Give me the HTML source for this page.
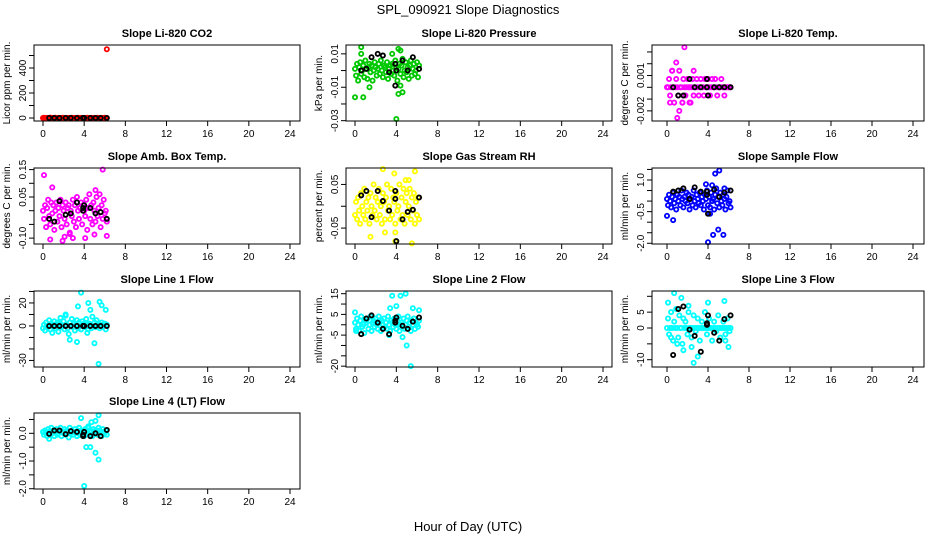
<!DOCTYPE html>
<html><head><meta charset="utf-8"><style>
html,body{margin:0;padding:0;background:#fff;}
svg{display:block;font-family:"Liberation Sans",sans-serif;}
</style></head><body>
<svg id="chart" width="936" height="540" viewBox="0 0 936 540">
<text x="468" y="14" text-anchor="middle" font-size="13">SPL_090921  Slope Diagnostics</text>
<text x="468" y="531" text-anchor="middle" font-size="13">Hour of Day (UTC)</text>
</svg>
<script>
const hrs=[0.0,0.1,0.2,0.3,0.4,0.5,0.6,0.7,0.8,0.9,1.0,1.1,1.2,1.3,1.4,1.5,1.6,1.7,1.8,1.9,2.0,2.1,2.2,2.3,2.4,2.5,2.6,2.7,2.8,2.9,3.0,3.1,3.2,3.3,3.4,3.5,3.6,3.7,3.8,3.9,4.0,4.1,4.2,4.3,4.4,4.5,4.6,4.7,4.8,4.9,5.0,5.1,5.2,5.3,5.4,5.5,5.6,5.7,5.8,5.9,6.0,6.1,6.2];
const bHrs=[0.6,1.1,1.6,2.2,2.7,3.3,3.9,3.9,4.0,4.6,5.1,5.6,6.2];
const xTicks=[0,4,8,12,16,20,24];

const co2Vals=[0,2,-1,0,1,-2,0,3,0,-1,1,0,2,-2,0,1,0,-1,0,2,0,-1,1,0,-2,0,1,0,2,-1,0,1,-1,0,2,0,-2,1,0,0,1,-1,0,2,0,-1,0,1,0,-2,1,0,0,2,-1,0,1,0,-1,0,2,0,0];
const co2OutX=[6.2]; const co2OutY=[550];
const co2Black=[0,0,0,0,0,0,0,0,0,0,0,0,0];

const presVals=[0.001,-0.003,0.004,-0.006,0.002,0.005,-0.002,0.000,0.003,-0.004,0.006,0.001,-0.005,0.002,0.004,-0.001,0.003,-0.006,0.000,0.005,0.002,-0.003,0.001,0.004,-0.002,0.006,0.000,-0.004,0.003,0.002,-0.001,0.005,-0.005,0.001,0.003,-0.002,0.004,0.000,-0.003,0.006,0.002,-0.006,0.001,0.004,-0.002,0.003,0.007,-0.004,0.000,0.005,-0.001,0.002,-0.005,0.003,0.006,-0.003,0.001,0.004,-0.002,0.000,0.005,-0.004,0.003];
const presOutX=[0.0,0.6,0.6,0.8,1.4,3.6,4.0,4.2,4.2,4.4,4.6,4.4];
const presOutY=[-0.016,0.014,0.010,-0.016,-0.010,0.010,-0.029,-0.014,0.013,0.012,-0.013,-0.009];
const presBlack=[0,0.001,0.008,0.010,0.009,-0.001,0.004,-0.009,0,0.006,0,0.008,0.001];

const tempVals=[0,0,0.0007,-0.0007,0,0.0014,0,-0.0013,0,0.0007,0,-0.0007,0.0014,0,0,-0.0013,0.0007,0,-0.0007,0,0.0007,0,0,-0.0013,0,0.0007,-0.0007,0,0,0.0007,0,-0.0007,0,0.0007,0,0,-0.0007,0.0007,0,0,0.0007,0,-0.0007,0,0.0007,0,0,0.0007,0,-0.0007,0,0,0,0.0007,0,0,-0.0007,0,0,0,0,0,0];
const tempOutX=[1.7,0.9,1.2,1.0,0.3,2.6,0.5,1.5,2.2];
const tempOutY=[0.0034,0.0021,-0.002,-0.0026,-0.0013,0.0014,0.0014,-0.0013,-0.0013];
const tempBlack=[0,-0.0007,-0.0007,0.0007,0,0,0.0007,0,-0.0007,0,0,0,0];

const ambVals=[0.00,-0.03,0.02,-0.06,0.01,0.04,-0.02,-0.05,0.03,-0.01,0.02,-0.07,0.00,0.03,-0.04,0.01,-0.02,0.04,-0.06,0.02,0.00,-0.03,0.03,-0.05,0.01,0.02,-0.08,0.00,-0.02,0.04,-0.04,0.02,-0.06,0.05,0.00,-0.03,0.01,0.03,-0.05,0.02,0.00,-0.02,0.04,-0.07,0.01,0.06,-0.03,0.02,-0.05,0.03,0.00,-0.04,0.05,-0.02,0.01,0.06,-0.06,0.02,-0.03,0.04,-0.01,0.00,-0.04];
const ambOutX=[0.1,5.8,0.9,0.7,1.9,2.9,4.1,5.0,6.2,5.1,2.1,2.6];
const ambOutY=[0.13,0.15,0.085,-0.105,-0.11,-0.10,-0.10,-0.087,-0.092,0.075,-0.095,-0.085];
const ambBlack=[-0.03,-0.04,0.035,-0.015,-0.01,0.03,0,0.01,0.02,0.01,-0.01,-0.005,-0.03];

const rhVals=[-0.02,0.01,-0.03,0.02,-0.01,-0.04,0.03,0.00,-0.02,0.04,-0.03,0.01,-0.01,0.02,-0.04,0.03,0.00,-0.02,0.05,-0.01,0.02,-0.03,0.01,0.04,-0.02,0.00,-0.04,0.03,0.01,-0.03,0.02,0.05,-0.01,0.00,-0.03,0.04,-0.02,0.02,0.01,-0.04,0.03,-0.01,0.00,0.05,-0.03,0.02,-0.02,0.04,-0.04,0.01,0.03,-0.02,0.00,0.04,-0.03,0.02,-0.01,0.03,-0.04,0.01,-0.02,0.02,-0.03];
const rhOutX=[2.7,3.8,5.8,1.5,2.9,3.9,5.5,3.9,4.9,5.2];
const rhOutY=[0.085,0.075,0.08,-0.07,-0.06,-0.08,-0.085,-0.06,0.06,0.06];
const rhBlack=[0.025,0.035,-0.025,0.035,0.012,-0.01,0.035,0.017,-0.08,-0.03,-0.013,-0.008,0.02];

const sfVals=[0.1,-0.2,0.3,0.0,-0.3,0.2,0.4,-0.1,0.1,-0.4,0.3,0.0,0.2,-0.2,0.5,0.1,-0.3,0.2,0.0,0.4,-0.1,0.3,-0.4,0.1,0.2,-0.2,0.5,0.0,-0.3,0.3,0.1,-0.1,0.4,-0.2,0.2,0.0,-0.4,0.3,0.1,0.5,-0.2,0.2,-0.3,0.4,0.0,0.1,-0.4,0.3,0.6,-0.1,0.2,-0.3,0.4,0.0,-0.2,0.3,0.1,-0.4,0.2,0.5,-0.1,0.0,-0.3];
const sfOutX=[0.0,0.6,4.7,5.1,5.0,4.5,5.5,4.0,4.2,4.4,3.8,5.6];
const sfOutY=[-0.7,-0.9,1.3,1.45,-1.35,-1.6,-1.6,-1.95,-0.6,0.75,0.8,0.6];
const sfBlack=[0.45,0.5,0.6,0.1,0.65,0.45,0.45,0.3,-0.6,0.55,0.2,0.4,0.5];

const l1Vals=[-2,1,-4,3,0,-1,5,-3,2,-6,1,4,-2,0,3,-5,2,7,-1,0,4,-3,9,1,-2,-7,3,0,6,-1,2,-4,1,5,-2,3,0,-3,4,1,2,-1,6,0,-3,2,1,-2,8,0,3,-1,5,0,2,-2,1,3,-1,0,2,-3,1];
const l1OutX=[3.7,3.4,4.4,5.5,5.7,6.1,4.6,5.0,5.4,2.6,3.3,4.3,2.2];
const l1OutY=[29,17,20,21,18,14,14,-15,-33,-12,-14,-6,10];
const l1Black=[0,0,0,0,0,0,0,0,0,0,0,0,0];

const l2Vals=[1,-2,3,0,-3,2,4,-1,0,-4,2,1,3,-2,0,4,-3,1,2,-1,3,0,-2,4,1,-3,2,0,3,-1,1,-2,4,0,-3,2,1,-1,3,0,-2,2,4,-3,0,1,-1,3,-2,0,2,4,-1,1,-3,2,0,3,-2,1,0,-1,2];
const l2OutX=[3.6,4.9,4.4,3.4,4.0,5.6,6.2,5.0,5.4,4.6,3.3,0.0,0.1];
const l2OutY=[14,15,14,8,9,8,7,-10,-20,-6,-5,6,-3];
const l2Black=[-4.5,3,4.5,1,-2,-4.5,2,1,3.5,-0.5,-2,1.5,3.5];

const l3Vals=[0,3,-2,0,5,0,-4,2,0,6,0,-3,4,0,0,-5,3,0,2,0,-2,5,0,0,-3,0,4,0,-1,0,3,0,-4,0,2,0,0,5,0,-2,0,3,0,0,-4,0,2,0,-1,0,4,0,-3,0,0,2,0,-2,0,3,0,-1,0];
const l3OutX=[0.7,1.4,0.1,4.0,5.6,2.6,3.0,1.6,2.4,0.4,5.7,6.0,1.0,2.1];
const l3OutY=[11,9.5,8,8,8.5,-11,-9,-7,-6,-3,-4,-6,-5,7];
const l3Black=[-8.5,6,6.8,-0.5,-2.5,-7.5,1,1.5,4,-1.5,-4,2.8,4];

const l4Vals=[0.05,-0.05,0.1,0.0,-0.1,0.15,0.05,-0.05,0.2,0.0,0.1,-0.1,0.05,0.15,-0.05,0.0,0.1,0.2,-0.1,0.05,0.0,0.15,-0.05,0.1,0.05,-0.15,0.2,0.0,0.1,-0.05,0.05,0.15,0.0,-0.1,0.1,0.2,-0.05,0.05,0.0,0.1,-0.1,0.15,0.05,0.0,0.2,-0.05,0.1,0.05,-0.1,0.15,0.0,0.1,0.05,-0.05,0.2,0.1,0.0,-0.1,0.15,0.05,0.0,0.1,-0.05];
const l4OutX=[3.7,5.4,5.1,4.7,4.4,4.2,4.6,5.1,5.4,4.0,0.6];
const l4OutY=[0.55,0.65,0.45,0.4,0.25,-0.5,-0.5,-0.7,-0.95,-1.9,-0.2];
const l4Black=[-0.02,0.1,0.1,-0.03,0.08,0.05,-0.05,-0.1,0.05,-0.1,0,-0.1,0.12];

const panels=[
 {name:'co2',title:'Slope Li-820 CO2',ylab:'Licor ppm per min.',col:'#FF0000',vals:co2Vals,ox:co2OutX,oy:co2OutY,blk:co2Black,dom:[-24,584],ticks:[0,100,200,300,400,500],labs:['0','200','400'],labAt:[0,200,400]},
 {name:'pressure',title:'Slope Li-820 Pressure',ylab:'kPa per min.',col:'#00C800',vals:presVals,ox:presOutX,oy:presOutY,blk:presBlack,dom:[-0.0302,0.0153],ticks:[-0.03,-0.02,-0.01,0,0.01],labs:['0.01','-0.01','-0.03'],labAt:[0.01,-0.01,-0.03]},
 {name:'temp',title:'Slope Li-820 Temp.',ylab:'degrees C per min.',col:'#FF00FF',vals:tempVals,ox:tempOutX,oy:tempOutY,blk:tempBlack,dom:[-0.00286,0.00359],ticks:[-0.002,-0.001,0,0.001,0.002,0.003],labs:['0.001','-0.002'],labAt:[0.001,-0.002]},
 {name:'amb-box-temp',title:'Slope Amb. Box Temp.',ylab:'degrees C per min.',col:'#FF00FF',vals:ambVals,ox:ambOutX,oy:ambOutY,blk:ambBlack,dom:[-0.1215,0.1558],ticks:[-0.1,-0.05,0,0.05,0.1,0.15],labs:['0.15','0.05','-0.10'],labAt:[0.15,0.05,-0.1]},
 {name:'gas-stream-rh',title:'Slope Gas Stream RH',ylab:'percent per min.',col:'#FFFF00',vals:rhVals,ox:rhOutX,oy:rhOutY,blk:rhBlack,dom:[-0.0865,0.0877],ticks:[-0.05,0,0.05],labs:['0.05','-0.05'],labAt:[0.05,-0.05]},
 {name:'sample-flow',title:'Slope Sample Flow',ylab:'ml/min per min.',col:'#0000FF',vals:sfVals,ox:sfOutX,oy:sfOutY,blk:sfBlack,dom:[-2.034,1.568],ticks:[-2,-1.5,-1,-0.5,0,0.5,1,1.5],labs:['1.0','-0.5','-2.0'],labAt:[1,-0.5,-2]},
 {name:'line1-flow',title:'Slope Line 1 Flow',ylab:'ml/min per min.',col:'#00FFFF',vals:l1Vals,ox:l1OutX,oy:l1OutY,blk:l1Black,dom:[-35.7,30.4],ticks:[-30,-20,-10,0,10,20,30],labs:['20','0','-30'],labAt:[20,0,-30]},
 {name:'line2-flow',title:'Slope Line 2 Flow',ylab:'ml/min per min.',col:'#00FFFF',vals:l2Vals,ox:l2OutX,oy:l2OutY,blk:l2Black,dom:[-20.4,16.3],ticks:[-20,-15,-10,-5,0,5,10,15],labs:['15','5','-5','-20'],labAt:[15,5,-5,-20]},
 {name:'line3-flow',title:'Slope Line 3 Flow',ylab:'ml/min per min.',col:'#00FFFF',vals:l3Vals,ox:l3OutX,oy:l3OutY,blk:l3Black,dom:[-12.3,11.67],ticks:[-10,-5,0,5,10],labs:['5','0','-10'],labAt:[5,0,-10]},
 {name:'line4-flow',title:'Slope Line 4 (LT) Flow',ylab:'ml/min per min.',col:'#00FFFF',vals:l4Vals,ox:l4OutX,oy:l4OutY,blk:l4Black,dom:[-2.01,0.733],ticks:[-2,-1.5,-1,-0.5,0,0.5],labs:['0.0','-1.0','-2.0'],labAt:[0,-1,-2]}
];
const colL=[34,346,652], colR=[300,612,924], colX0=[43,355,667], colX24=[290,603,913];
const rowT=[45,168,291,413], H=76;
const NS='http://www.w3.org/2000/svg';
const svg=document.getElementById('chart');
function mk(tag,attrs,parent){const e=document.createElementNS(NS,tag);for(const k in attrs)e.setAttribute(k,attrs[k]);(parent||svg).appendChild(e);return e;}
panels.forEach((p,i)=>{
 const c=i%3, r=Math.floor(i/3);
 const L=colL[c],R=colR[c],T=rowT[r],B=T+H;
 const xs=h=>colX0[c]+(colX24[c]-colX0[c])*h/24;
 const ys=v=>B-(v-p.dom[0])/(p.dom[1]-p.dom[0])*H;
 const g=mk('g',{});
 
 
 const t=mk('text',{x:(L+R)/2,y:T-8,'text-anchor':'middle','font-size':'11','font-weight':'bold'},g);
 
 
 t.textContent=p.title;
 const pts=mk('g',{fill:'none','stroke-width':'1.8'},g);
 
 
 const dot=(h,v,col,nm)=>{const y=ys(v);if(y<T-3||y>B+3)return;const e=mk('circle',{cx:xs(h),cy:y,r:'2.1',stroke:col},pts);
  
  };
 p.vals.forEach((v,k)=>{if(k<hrs.length)dot(hrs[k],v,p.col,'data-point');});
 p.ox.forEach((h,k)=>dot(h,p.oy[k],p.col,'data-point'));
 p.blk.forEach((v,k)=>dot(bHrs[k],v,'#000','mean-point'));
 const box=mk('rect',{x:L,y:T,width:R-L,height:H,fill:'none',stroke:'#000','stroke-width':'1'},g);
 
 
 const xa=mk('g',{},g);
 
 
 mk('line',{x1:xs(0),x2:xs(24),y1:B,y2:B,stroke:'#000'},xa);
 xTicks.forEach(h=>{mk('line',{x1:xs(h),x2:xs(h),y1:B,y2:B+5,stroke:'#000'},xa);
  const tl=mk('text',{x:xs(h),y:B+16,'text-anchor':'middle','font-size':'10'},xa);
  
  
  tl.textContent=h;});
 const ya=mk('g',{},g);
 
 
 const tk=p.ticks.filter(v=>v>=p.dom[0]-1e-9&&v<=p.dom[1]+1e-9);
 mk('line',{x1:L,x2:L,y1:ys(Math.min(...tk)),y2:ys(Math.max(...tk)),stroke:'#000'},ya);
 tk.forEach(v=>mk('line',{x1:L-5,x2:L,y1:ys(v),y2:ys(v),stroke:'#000'},ya));
 p.labs.forEach((s,k)=>{const y=ys(p.labAt[k]);const x=L-8;
  const tl=mk('text',{x:x,y:y,'text-anchor':'middle','font-size':'10',transform:`rotate(-90 ${x} ${y})`},ya);
  
  
  tl.textContent=s;});
 const yx=L-24, yy=(T+B)/2;
 const yt=mk('text',{x:yx,y:yy,'text-anchor':'middle','font-size':'10',transform:`rotate(-90 ${yx} ${yy})`},g);
 
 
 yt.textContent=p.ylab;
});
</script>
</body></html>
